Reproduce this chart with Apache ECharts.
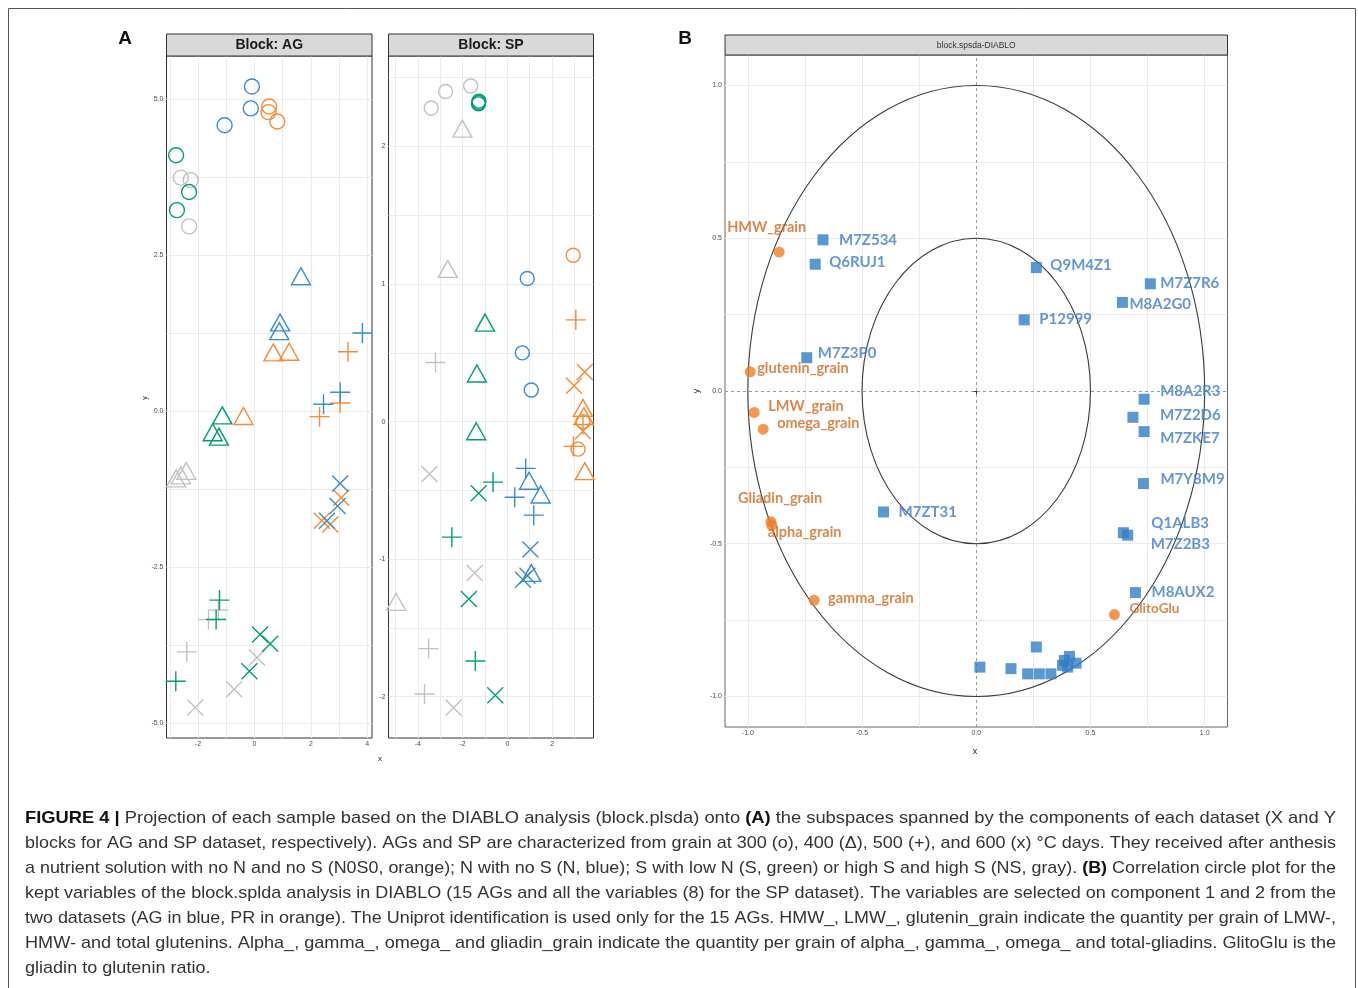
<!DOCTYPE html>
<html><head><meta charset="utf-8">
<script src="https://cdn.jsdelivr.net/npm/echarts@6/dist/echarts.min.js"></script>
<style>html,body{margin:0;padding:0;background:#fff}#c{width:1358px;height:988px}</style>
</head><body><div id="c"></div><script>
// ---------------- DATA ----------------
const conditions = ['N0S0', 'N', 'S', 'NS'];
const condColors = { N0S0: '#F68B33', N: '#388ECC', S: '#009E73', NS: '#C2C2C2' };
const stages = ['300', '400', '500', '600'];

// Block AG : [x, y, stage]
const agN0S0 = [[0.52,4.88,'300'],[0.50,4.79,'300'],[0.81,4.64,'300'],[0.67,0.94,'400'],[1.23,0.95,'400'],[-0.39,-0.08,'400'],[3.32,0.95,'500'],[3.04,0.13,'500'],[2.31,-0.09,'500'],[3.08,-1.39,'600'],[2.39,-1.76,'600'],[2.69,-1.82,'600']];
const agN = [[-0.09,5.20,'300'],[-0.13,4.85,'300'],[-1.06,4.58,'300'],[1.65,2.16,'400'],[0.91,1.42,'400'],[0.88,1.28,'400'],[3.83,1.25,'500'],[3.04,0.30,'500'],[2.45,0.11,'500'],[3.04,-1.16,'600'],[2.95,-1.52,'600'],[2.57,-1.76,'600']];
const agS = [[-2.78,4.10,'300'],[-2.32,3.51,'300'],[-2.75,3.22,'300'],[-1.14,-0.07,'400'],[-1.48,-0.34,'400'],[-1.26,-0.41,'400'],[-1.24,-3.03,'500'],[-1.36,-3.34,'500'],[-2.79,-4.33,'500'],[0.20,-3.58,'600'],[0.56,-3.73,'600'],[-0.18,-4.17,'600']];
const agNS = [[-2.61,3.74,'300'],[-2.26,3.70,'300'],[-2.32,2.96,'300'],[-2.42,-0.96,'400'],[-2.61,-1.03,'400'],[-2.78,-1.08,'400'],[-1.28,-3.19,'500'],[-1.63,-3.34,'500'],[-2.40,-3.86,'500'],[0.09,-3.95,'600'],[-0.72,-4.46,'600'],[-2.10,-4.75,'600']];

// Block SP : [x, y, stage]
const spN0S0 = [[2.94,1.21,'300'],[3.38,0.00,'300'],[3.16,-0.20,'300'],[3.38,0.10,'400'],[3.42,0.04,'400'],[3.46,-0.36,'400'],[3.06,0.74,'500'],[3.38,-0.02,'500'],[2.95,-0.18,'500'],[3.46,0.36,'600'],[2.98,0.26,'600'],[3.38,-0.07,'600']];
const spN = [[0.89,1.04,'300'],[0.67,0.50,'300'],[1.07,0.23,'300'],[0.97,-0.43,'400'],[1.49,-0.53,'400'],[1.07,-1.10,'400'],[0.82,-0.34,'500'],[0.33,-0.55,'500'],[1.18,-0.68,'500'],[1.03,-0.93,'600'],[0.70,-1.15,'600'],[0.90,-1.12,'600']];
const spS = [[-1.28,2.32,'300'],[-1.27,2.33,'300'],[-1.29,2.31,'300'],[-1.00,0.72,'400'],[-1.36,0.35,'400'],[-1.39,-0.07,'400'],[-0.64,-0.44,'500'],[-2.48,-0.84,'500'],[-1.43,-1.74,'500'],[-1.28,-0.52,'600'],[-1.72,-1.29,'600'],[-0.54,-1.99,'600']];
const spNS = [[-3.40,2.28,'300'],[-2.76,2.40,'300'],[-1.64,2.44,'300'],[-2.01,2.13,'400'],[-2.66,1.11,'400'],[-4.97,-1.31,'400'],[-3.21,0.43,'500'],[-3.52,-1.65,'500'],[-3.70,-1.98,'500'],[-3.48,-0.38,'600'],[-1.46,-1.10,'600'],[-2.40,-2.08,'600']];

// Panel B : AG variables (blue squares)
const bAgNames = ['M7Z534','Q6RUJ1','M7Z3P0','Q9M4Z1','M7Z7R6','M8A2G0','P12999','M7ZT31','M8A2R3','M7Z2D6','M7ZKE7','M7Y8M9','Q1ALB3','M7Z2B3','M8AUX2','','','','','','','','','','',''];
const bAgX = [-0.671,-0.705,-0.742,0.263,0.762,0.640,0.210,-0.406,0.735,0.686,0.735,0.732,0.644,0.663,0.697,0.016,0.152,0.263,0.225,0.276,0.327,0.386,0.408,0.400,0.437,0.378];
const bAgY = [0.495,0.415,0.109,0.404,0.351,0.290,0.233,-0.396,-0.027,-0.086,-0.133,-0.303,-0.464,-0.472,-0.660,-0.904,-0.909,-0.838,-0.926,-0.926,-0.926,-0.882,-0.869,-0.904,-0.891,-0.898];
// Panel B : SP variables (orange circles)
const bSpNames = ['HMW_grain','glutenin_grain','LMW_grain','omega_grain','Gliadin_grain','alpha_grain','gamma_grain','GlitoGlu'];
const bSpX = [-0.863,-0.990,-0.972,-0.933,-0.899,-0.895,-0.710,0.605];
const bSpY = [0.455,0.063,-0.070,-0.125,-0.428,-0.440,-0.685,-0.732];
const circleRadii = [1, 0.5];

// tick labels / grid breaks
const agXTicks = [-2, 0, 2, 4];
const agYTicks = [-5, -2.5, 0, 2.5, 5];
const agGridX = [-3, -2, -1, 0, 1, 2, 3, 4];
const agGridY = [-5, -3.75, -2.5, -1.25, 0, 1.25, 2.5, 3.75, 5];
const spXTicks = [-4, -2, 0, 2];
const spYTicks = [-2, -1, 0, 1, 2];
const spGridX = [-5, -4, -3, -2, -1, 0, 1, 2, 3];
const spGridY = [-2, -1.5, -1, -0.5, 0, 0.5, 1, 1.5, 2, 2.5];
const bTicks = [-1, -0.5, 0, 0.5, 1];
const bGrid = [-1, -0.75, -0.5, -0.25, 0.25, 0.5, 0.75, 1];

// ---------------- STYLE / LAYOUT ----------------
const bAgLabelOffsets = [[16,0],[14,-2],[11,-5],[14,-2],[10,-1],[7,2],[15,-1],[15,0],[16,-8],[27,-2],[16,7],[17,-4],[28,-10],[23,9],[16,0]];
const bSpLabelOffsets = [[-52,-25],[7,-3],[14,-6],[14,-6],[-33,-23],[-4,7],[14,-2],[15,-6]];
const plusPath = 'path://M5,0V10M0,5H10';
const crossPath = 'path://M0,0L10,10M10,0L0,10';
const stageSymbols = { '300': 'circle', '400': 'triangle', '500': plusPath, '600': crossPath };
const stageSizesAG = { '300': 15, '400': [19, 17], '500': 20, '600': 16 };
const stageSizesSP = { '300': 14, '400': [19, 17], '500': 20, '600': 16 };

const tickFont = { fontSize: 7, color: '#4D4D4D', fontFamily: 'Liberation Sans, Arial, sans-serif' };
const gridLineStyle = { color: '#EBEBEB', width: 1, type: 'solid' };

function valueAxis(gi, min, max, ticks, fmt, isY) {
  return {
    gridIndex: gi, type: 'value', min: min, max: max,
    axisLine: { show: false },
    splitLine: { show: false },
    axisTick: { show: true, length: 3, lineStyle: { color: '#333', width: 1 }, customValues: ticks },
    axisLabel: Object.assign({ show: true, customValues: ticks, formatter: fmt, margin: isY ? 3 : 3, showMinLabel: true, showMaxLabel: true }, tickFont)
  };
}
function gridHelper(gi, gx, gy, extra) {
  const d = gx.map(v => ({ xAxis: v })).concat(gy.map(v => ({ yAxis: v })));
  return {
    type: 'line', xAxisIndex: gi, yAxisIndex: gi, data: [], silent: true, z: 1,
    markLine: { silent: true, symbol: ['none', 'none'], animation: false, z: 1,
      label: { show: false }, lineStyle: gridLineStyle, emphasis: { disabled: true },
      data: d.concat(extra || []) }
  };
}
function panelSeries(sets, gi, sizes) {
  const out = [];
  sets.forEach(([cond, arr]) => {
    stages.forEach(st => {
      const pts = arr.filter(p => p[2] === st).map(p => [p[0], p[1]]);
      out.push({
        type: 'scatter', xAxisIndex: gi, yAxisIndex: gi, data: pts, silent: true, z: 3, clip: false,
        symbol: stageSymbols[st], symbolSize: sizes[st],
        itemStyle: { color: 'rgba(0,0,0,0)', borderColor: condColors[cond], borderWidth: 1.4, opacity: 1 },
        emphasis: { disabled: true }
      });
    });
  });
  return out;
}

const series = [];
series.push(gridHelper(0, agGridX, agGridY));
series.push(gridHelper(1, spGridX, spGridY));
series.push(gridHelper(2, bGrid, bGrid, [
  { xAxis: 0, lineStyle: { color: '#9A9A9A', type: [3, 3], width: 1 } },
  { yAxis: 0, lineStyle: { color: '#9A9A9A', type: [3, 3], width: 1 } }
]));
series.push(...panelSeries([['NS', agNS], ['N0S0', agN0S0], ['N', agN], ['S', agS]], 0, stageSizesAG));
series.push(...panelSeries([['NS', spNS], ['N0S0', spN0S0], ['N', spN], ['S', spS]], 1, stageSizesSP));

// correlation circles
series.push({
  type: 'custom', xAxisIndex: 2, yAxisIndex: 2, silent: true, z: 2,
  data: circleRadii.map(r => [r, 0]),
  renderItem: function (params, api) {
    const r = api.value(0);
    const c = api.coord([0, 0]);
    const s = api.size([r, r]);
    return { type: 'ellipse', shape: { cx: c[0], cy: c[1], rx: s[0], ry: s[1] },
      style: { fill: 'none', stroke: '#3A3A3A', lineWidth: 1.1 } };
  }
});
// AG variables
series.push({
  type: 'scatter', xAxisIndex: 2, yAxisIndex: 2, silent: true, z: 4,
  symbol: 'rect', symbolSize: 11,
  itemStyle: { color: '#2F7EC7' },
  data: bAgX.map((x, i) => ({
    value: [x, bAgY[i]], name: bAgNames[i],
    label: bAgNames[i] ? { show: true, offset: bAgLabelOffsets[i] } : { show: false }
  })),
  label: { show: true, position: 'inside', align: 'left', verticalAlign: 'middle', formatter: '{b}',
    fontFamily: 'Lato, "Open Sans", sans-serif', fontWeight: 'bold', fontSize: 15, color: '#3D7CC8' },
  emphasis: { disabled: true }
});
// SP variables
series.push({
  type: 'scatter', xAxisIndex: 2, yAxisIndex: 2, silent: true, z: 4,
  symbol: 'circle', symbolSize: 11,
  itemStyle: { color: '#F07D26' },
  data: bSpX.map((x, i) => ({
    value: [x, bSpY[i]], name: bSpNames[i],
    label: { show: true, offset: bSpLabelOffsets[i], fontSize: bSpNames[i] === 'GlitoGlu' ? 13.5 : 14.5 }
  })),
  label: { show: true, position: 'inside', align: 'left', verticalAlign: 'middle', formatter: '{b}',
    fontFamily: 'Lato, "Open Sans", sans-serif', fontWeight: 'bold', fontSize: 14.5, color: '#D2691F' },
  emphasis: { disabled: true }
});

// ---------------- CAPTION ----------------
const captionLines = [
  [['b', 'FIGURE 4 |'], ['n', ' Projection of each sample based on the DIABLO analysis (block.plsda) onto '], ['b', '(A)'], ['n', ' the subspaces spanned by the components of each dataset (X and Y']],
  [['n', 'blocks for AG and SP dataset, respectively). AGs and SP are characterized from grain at 300 (o), 400 (\u0394), 500 (+), and 600 (x) \u00B0C days. They received after anthesis']],
  [['n', 'a nutrient solution with no N and no S (N0S0, orange); N with no S (N, blue); S with low N (S, green) or high S and high S (NS, gray). '], ['b', '(B)'], ['n', ' Correlation circle plot for the']],
  [['n', 'kept variables of the block.splda analysis in DIABLO (15 AGs and all the variables (8) for the SP dataset). The variables are selected on component 1 and 2 from the']],
  [['n', 'two datasets (AG in blue, PR in orange). The Uniprot identification is used only for the 15 AGs. HMW_, LMW_, glutenin_grain indicate the quantity per grain of LMW-,']],
  [['n', 'HMW- and total glutenins. Alpha_, gamma_, omega_ and gliadin_grain indicate the quantity per grain of alpha_, gamma_, omega_ and total-gliadins. GlitoGlu is the']],
  [['n', 'gliadin to glutenin ratio.']]
];
const capFamily = '"Liberation Sans", Arial, sans-serif';
const capSize = 17;
const ctx = document.createElement('canvas').getContext('2d');
function measureLine(line) {
  let w = 0;
  line.forEach(([k, t]) => {
    ctx.font = (k === 'b' ? 'bold ' : '') + capSize + 'px ' + capFamily;
    w += ctx.measureText(t).width;
  });
  return w;
}
const capLeft = 25, capRight = 1336;
const scales = captionLines.map(l => (capRight - capLeft) / measureLine(l));
const meanScale = scales.slice(0, 6).reduce((a, b) => a + b, 0) / 6;
const graphics = [];
captionLines.forEach((line, i) => {
  const txt = line.map(([k, t]) => '{' + k + '|' + t + '}').join('');
  graphics.push({
    type: 'text', x: capLeft, y: 818 + i * 25, scaleX: i < 6 ? scales[i] : meanScale, silent: true,
    style: {
      text: txt, align: 'left', verticalAlign: 'middle',
      rich: {
        b: { fontFamily: capFamily, fontSize: capSize, fontWeight: 'bold', fill: '#111' },
        n: { fontFamily: capFamily, fontSize: capSize, fill: '#333' }
      }
    }
  });
});

// frame, headers, labels
graphics.push({ type: 'rect', silent: true, shape: { x: 8.5, y: 8.5, width: 1347, height: 1000 }, style: { fill: 'none', stroke: '#555', lineWidth: 1 } });
function header(x, y, w, h, text, font) {
  graphics.push({ type: 'rect', silent: true, z: 10, shape: { x: x, y: y, width: w, height: h }, style: { fill: '#D9D9D9', stroke: '#333', lineWidth: 1 } });
  graphics.push({ type: 'text', silent: true, z: 11, x: x + w / 2, y: y + h / 2 + 0.5, style: Object.assign({ text: text, align: 'center', verticalAlign: 'middle', fill: '#1A1A1A' }, font) });
}
header(166.5, 34, 205.5, 22, 'Block: AG', { fontFamily: 'Liberation Sans, Arial, sans-serif', fontWeight: 'bold', fontSize: 14 });
header(388.5, 34, 205, 22, 'Block: SP', { fontFamily: 'Liberation Sans, Arial, sans-serif', fontWeight: 'bold', fontSize: 14 });
header(725, 35, 502.5, 20, 'block.spsda-DIABLO', { fontFamily: 'Liberation Sans, Arial, sans-serif', fontSize: 8.5, fill: '#333' });
function txt(x, y, t, opts) {
  graphics.push({ type: 'text', silent: true, x: x, y: y, rotation: opts.rotation || 0,
    style: { text: t, align: 'center', verticalAlign: 'middle', fill: opts.fill || '#222',
      fontFamily: opts.family || 'Liberation Sans, Arial, sans-serif', fontSize: opts.size, fontWeight: opts.weight || 'normal' } });
}
txt(125, 39, 'A', { size: 19, weight: 'bold', fill: '#111' });
txt(685, 39, 'B', { size: 19, weight: 'bold', fill: '#111' });
txt(380, 759, 'x', { size: 8 });
txt(145, 398, 'y', { size: 7, rotation: Math.PI / 2 });
txt(975, 752, 'x', { size: 9 });
txt(697, 391, 'y', { size: 9, rotation: Math.PI / 2 });

// ---------------- OPTION ----------------
const grids = [
  { left: 166.5, top: 56, width: 205.5, height: 682 },
  { left: 388.5, top: 56, width: 205, height: 682 },
  { left: 725, top: 55, width: 502.5, height: 672 }
].map((g, i) => Object.assign(g, { show: true, backgroundColor: '#fff', borderColor: i === 2 ? '#666' : '#333', borderWidth: 1, containLabel: false, outerBoundsMode: 'none' }));

const f1 = v => v.toFixed(1);
const f0 = v => String(v);
const option = {
  animation: false,
  backgroundColor: '#fff',
  grid: grids,
  xAxis: [
    valueAxis(0, -3.12, 4.17, agXTicks, f0, false),
    valueAxis(1, -5.31, 3.85, spXTicks, f0, false),
    valueAxis(2, -1.1, 1.1, bTicks, f1, false)
  ],
  yAxis: [
    valueAxis(0, -5.24, 5.69, agYTicks, f1, true),
    valueAxis(1, -2.30, 2.658, spYTicks, f0, true),
    valueAxis(2, -1.1, 1.1, bTicks, f1, true)
  ],
  series: series,
  graphic: graphics
};
const chart = echarts.init(document.getElementById('c'), null, { renderer: 'canvas', width: 1358, height: 988 });
chart.setOption(option);
</script></body></html>
